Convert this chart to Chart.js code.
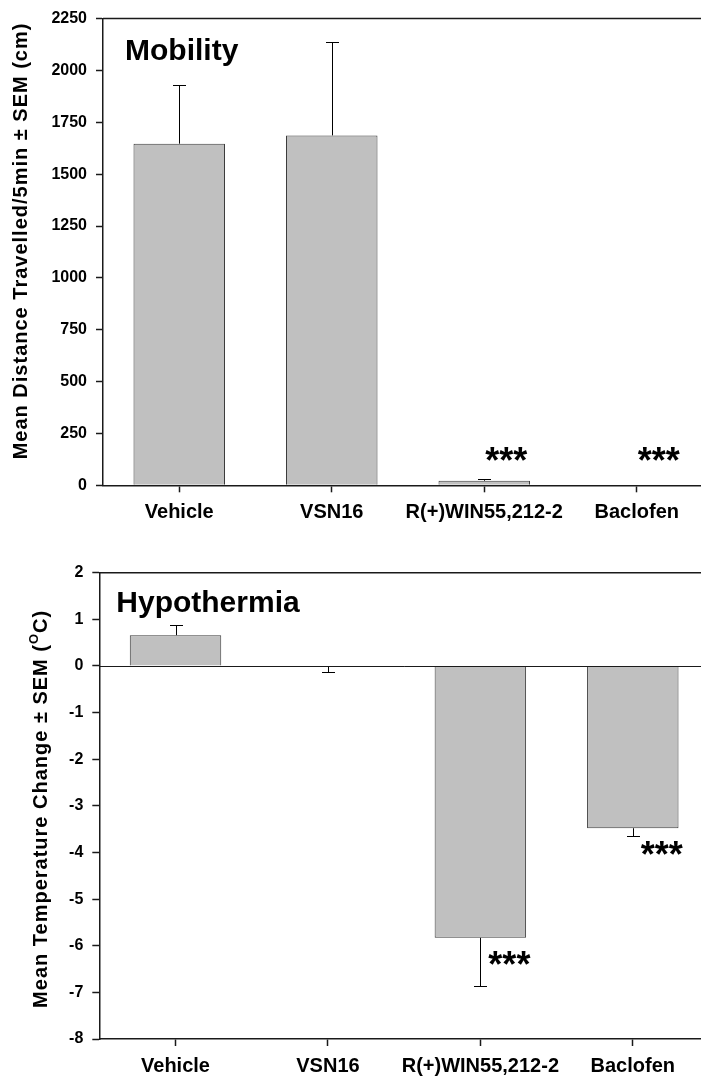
<!DOCTYPE html>
<html>
<head>
<meta charset="utf-8">
<script src="https://cdn.jsdelivr.net/npm/chart.js@4.4.0/dist/chart.umd.min.js"></script>
<style>
  html, body { margin: 0; padding: 0; background: #fff; overflow: hidden; }
  #wrap { position: relative; width: 701px; height: 1077px; overflow: hidden; }
  canvas { position: absolute; left: 0; }
  #mobility { top: 0; }
  #temperature { top: 540px; }
</style>
</head>
<body>
<div id="wrap">
  <canvas id="mobility" width="720" height="540"></canvas>
  <canvas id="temperature" width="720" height="537"></canvas>
</div>
<script>
// groups on the x axis
const groups = ['Vehicle', 'VSN16', 'R(+)WIN55,212-2', 'Baclofen'];

// top panel: distance travelled (cm / 5 min)
const distanceMean = [1647, 1687, 22, 0];
const distanceSem = [281, 450, 10, 0];
const distanceTicks = [0, 250, 500, 750, 1000, 1250, 1500, 1750, 2000, 2250];

// bottom panel: temperature change (deg C)
const tempMean = [0.66, -0.02, -5.83, -3.48];
const tempSem = [0.22, 0.12, 1.04, 0.16];
const tempTicks = [-8, -7, -6, -5, -4, -3, -2, -1, 0, 1, 2];

// significance marks
const sigMarks = ['', '', '***', '***'];

const FONT = "'Liberation Sans', Arial, sans-serif";
const AXIS = '#1a1a1a';

// rotated y title, pieces may be raised (superscript)
function drawYTitle(ctx, parts, cx, cy) {
  ctx.save();
  ctx.translate(cx, cy);
  ctx.rotate(-Math.PI / 2);
  ctx.letterSpacing = '1px';
  ctx.fillStyle = '#000';
  ctx.textAlign = 'left';
  ctx.textBaseline = 'alphabetic';
  let total = 0;
  parts.forEach(p => { ctx.font = p.font; p.w = ctx.measureText(p.text).width; total += p.w; });
  let x = -total / 2;
  parts.forEach(p => { ctx.font = p.font; ctx.fillText(p.text, x, p.dy || 0); x += p.w; });
  ctx.restore();
}

// error bars, frame, titles and stars
const extras = {
  id: 'extras',
  afterDatasetsDraw(chart, args, opts) {
    const { ctx, chartArea } = chart;
    const y = chart.scales.y;
    const meta = chart.getDatasetMeta(0);
    ctx.save();

    // frame top
    ctx.strokeStyle = AXIS;
    ctx.lineWidth = 1.5;
    ctx.beginPath();
    ctx.moveTo(chartArea.left, chartArea.top);
    ctx.lineTo(chartArea.right, chartArea.top);
    ctx.stroke();

    // zero line
    if (opts.zeroLine) {
      const z = Math.round(y.getPixelForValue(0)) + 0.5;
      ctx.lineWidth = 1;
      ctx.beginPath();
      ctx.moveTo(chartArea.left, z);
      ctx.lineTo(chartArea.right, z);
      ctx.stroke();
    }

    // error bars (one sided, away from zero)
    ctx.strokeStyle = '#000';
    ctx.lineWidth = 1;
    opts.mean.forEach((m, i) => {
      const s = opts.sem[i];
      if (!s) return;
      const end = m < 0 ? m - s : m + s;
      const x = Math.round(meta.data[i].x) + 0.5;
      const y0 = y.getPixelForValue(m);
      const y1 = Math.round(y.getPixelForValue(end)) + 0.5;
      ctx.beginPath();
      ctx.moveTo(x, y0);
      ctx.lineTo(x, y1);
      ctx.moveTo(x - 6.5, y1);
      ctx.lineTo(x + 6.5, y1);
      ctx.stroke();
    });

    // stars
    ctx.fillStyle = '#000';
    ctx.font = 'bold 36px ' + FONT;
    ctx.textAlign = 'left';
    ctx.textBaseline = 'alphabetic';
    sigMarks.forEach((t, i) => {
      if (!t) return;
      const x = meta.data[i].x + opts.starDx;
      const base = opts.starAtBase ? 0 : opts.mean[i];
      ctx.fillText(t, x, y.getPixelForValue(base) + opts.starDy);
    });

    // panel title
    ctx.font = 'bold 30px ' + FONT;
    ctx.fillText(opts.title, chartArea.left + opts.titleDx, chartArea.top + opts.titleDy);
    ctx.restore();

    // y axis title
    drawYTitle(ctx, opts.yTitle, opts.yTitleX, (chartArea.top + chartArea.bottom) / 2 + opts.yTitleDy);
  }
};

function makeChart(id, cfg) {
  return new Chart(document.getElementById(id), {
    type: 'bar',
    data: {
      labels: groups,
      datasets: [{
        data: cfg.mean,
        backgroundColor: '#c0c0c0',
        borderColor: '#3c3c3c',
        borderWidth: 1,
        barPercentage: 0.6,
        categoryPercentage: 1
      }]
    },
    options: {
      responsive: false,
      animation: false,
      devicePixelRatio: 1,
      layout: { padding: { top: cfg.padTop, left: 0, right: cfg.padRight, bottom: 0 } },
      plugins: {
        legend: { display: false },
        tooltip: { enabled: false },
        extras: cfg.extras
      },
      scales: {
        x: {
          offset: true,
          grid: { offset: false, drawOnChartArea: false, tickLength: 7, color: AXIS, tickWidth: 1.5 },
          border: { color: AXIS, width: 1.5 },
          ticks: { color: '#000', font: { family: FONT, size: 20, weight: 'bold' }, padding: 8, maxRotation: 0, autoSkip: false },
          afterFit: (s) => { s.height = cfg.xHeight; }
        },
        y: {
          min: cfg.ticks[0],
          max: cfg.ticks[cfg.ticks.length - 1],
          afterBuildTicks: (s) => { s.ticks = cfg.ticks.map(v => ({ value: v })); },
          grid: { drawOnChartArea: false, tickLength: 7, color: AXIS, tickWidth: 1.5 },
          border: { color: AXIS, width: 1.5 },
          ticks: { color: '#000', font: { family: FONT, size: 16, weight: 'bold' }, padding: 9, callback: (v) => String(v) },
          afterFit: (s) => { s.width = cfg.yWidth; }
        }
      }
    },
    plugins: [extras]
  });
}

const TF = 'bold 20px ' + FONT;

makeChart('mobility', {
  mean: distanceMean,
  ticks: distanceTicks,
  padTop: 18.3,
  padRight: 7,
  xHeight: 540 - 485.3,
  yWidth: 103,
  extras: {
    mean: distanceMean, sem: distanceSem, zeroLine: false,
    starAtBase: true, starDx: 1, starDy: -12,
    title: 'Mobility', titleDx: 22, titleDy: 41,
    yTitle: [{ text: 'Mean Distance Travelled/5min \u00b1 SEM (cm)', font: TF }],
    yTitleX: 27, yTitleDy: -11
  }
});

makeChart('temperature', {
  mean: tempMean,
  ticks: tempTicks,
  padTop: 572.7 - 540,
  padRight: 11,
  xHeight: 537 - (1039 - 540),
  yWidth: 99.3,
  extras: {
    mean: tempMean, sem: tempSem, zeroLine: true,
    starAtBase: false, starDx: 8, starDy: 39,
    title: 'Hypothermia', titleDx: 17, titleDy: 39,
    yTitle: [
      { text: 'Mean Temperature Change \u00b1 SEM (', font: TF },
      { text: 'O', font: 'bold 13px ' + FONT, dy: -9 },
      { text: 'C)', font: TF }
    ],
    yTitleX: 47, yTitleDy: 3
  }
});
</script>
</body>
</html>
